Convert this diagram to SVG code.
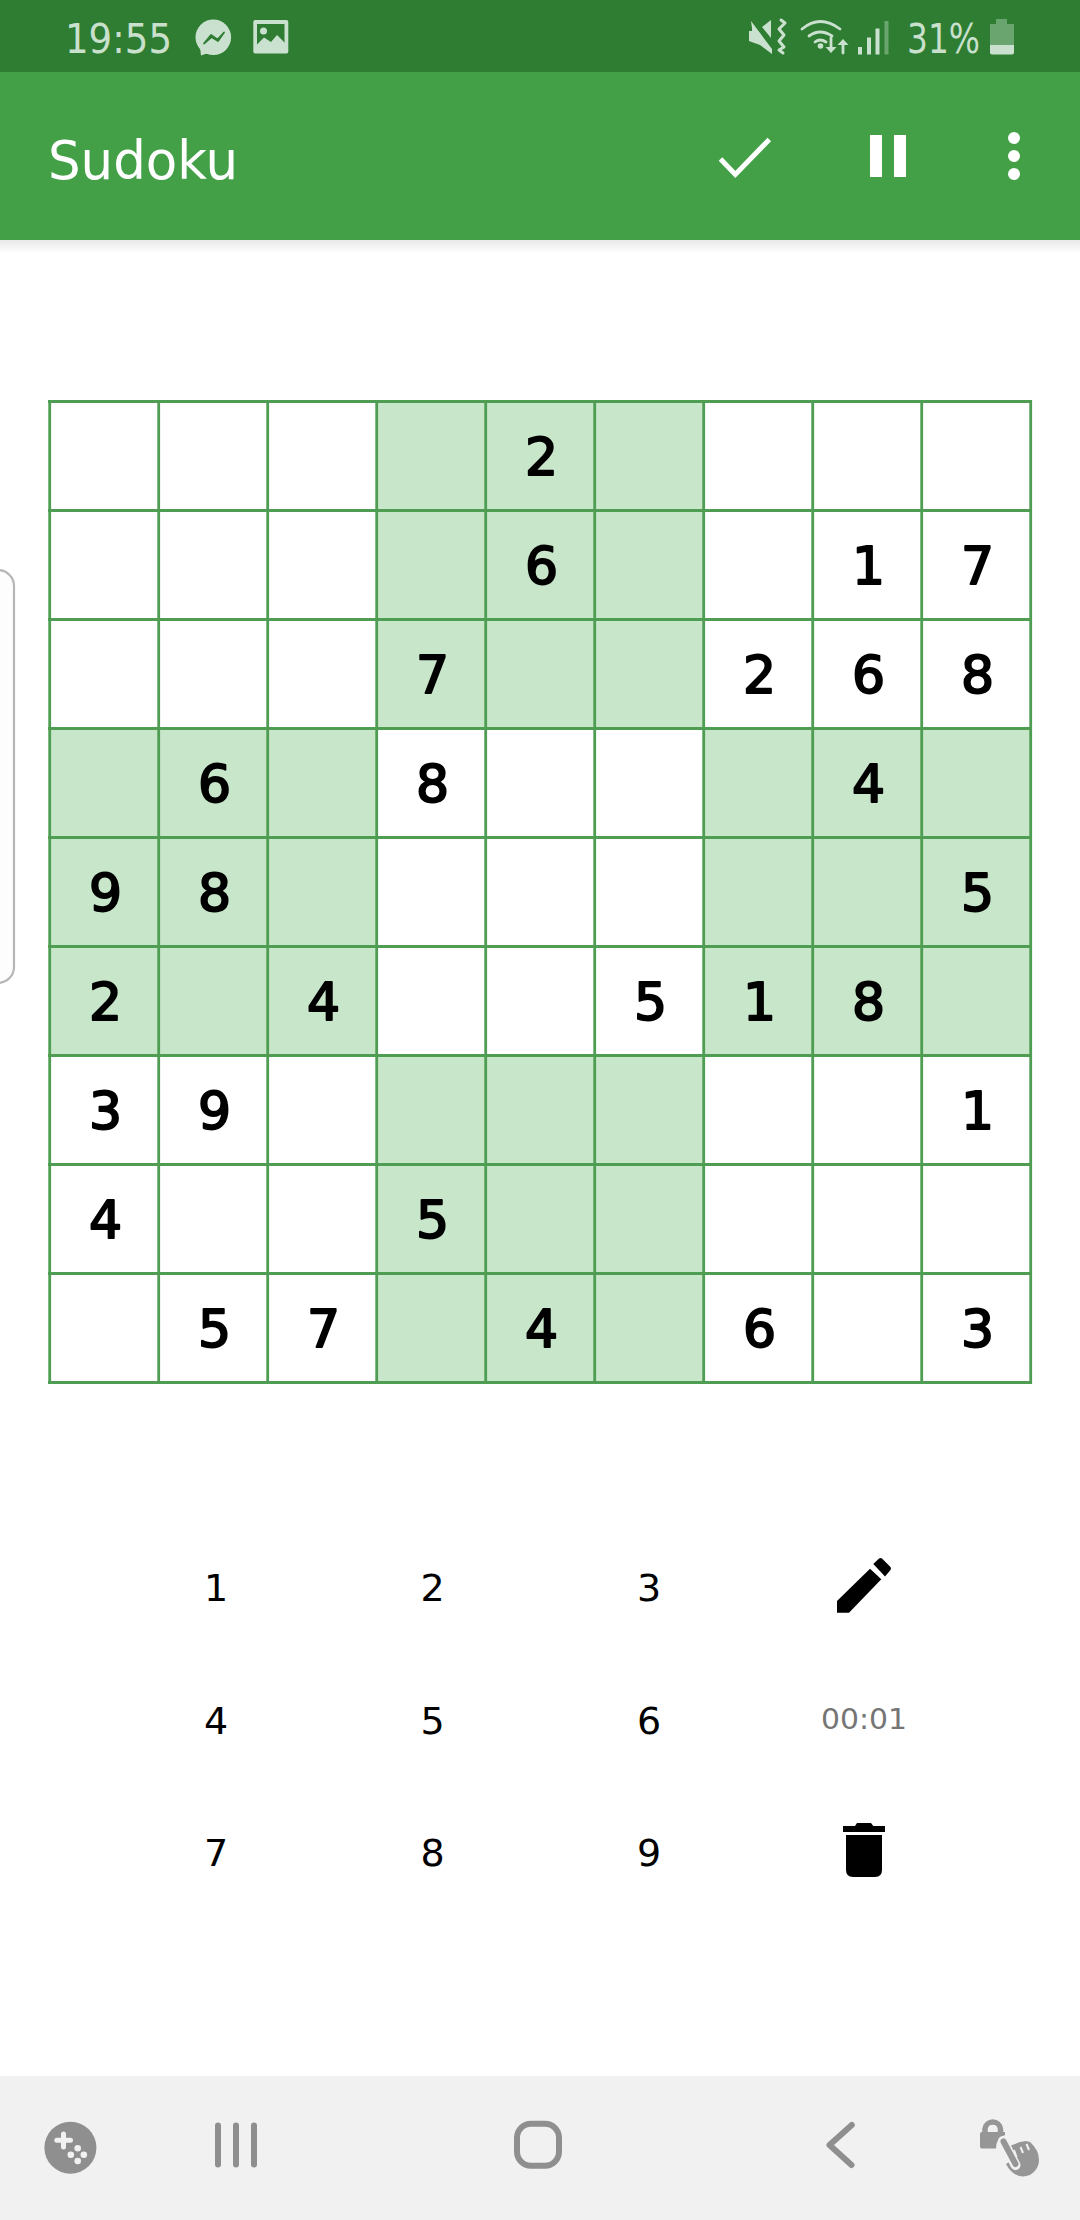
<svg xmlns="http://www.w3.org/2000/svg" width="1080" height="2220" viewBox="0 0 1080 2220">
<defs>
<linearGradient id="sh" x1="0" y1="0" x2="0" y2="1"><stop offset="0" stop-color="#000" stop-opacity=".09"/><stop offset="1" stop-color="#000" stop-opacity="0"/></linearGradient>
</defs>
<style>
text{font-family:"DejaVu Sans","Liberation Sans",sans-serif}
.hl{fill:#C8E6C9}
.gl{stroke:#4E9D52;stroke-width:2.8;fill:none}
.d{font-size:52px;fill:#000;stroke:#000;stroke-width:2px;stroke-linejoin:round;text-anchor:middle}
.k{font-size:38px;fill:#000;text-anchor:middle}
.st{font-size:41px;fill:#C8E0CC}
.si{fill:#CBE1CF}
.nav{fill:#8F8F8F}
.navs{stroke:#8F8F8F;fill:none;stroke-linecap:round}
</style>
<rect width="1080" height="2220" fill="#fff"/>
<g id="side-panel"><rect x="-30" y="570" width="44" height="413" rx="16" fill="#FDFDFD" stroke="#B6B6B6" stroke-width="2.2"/></g>

<g id="status-bar">
<rect width="1080" height="72" fill="#2E7D32"/>
<text class="st" x="65" y="53" textLength="107" lengthAdjust="spacingAndGlyphs">19:55</text>
<g id="icon-messenger">
<circle class="si" cx="213.300" cy="37.300" r="17.800"/><path class="si" d="M200 47 L201 55.500 L211 52Z"/>
<path d="M204 43.500 L211 35 L217.500 39.500 L224 32.500 L218 41 L211.500 37Z" fill="#2E7D32" stroke="#2E7D32" stroke-width="1.800" stroke-linejoin="round"/>
</g>
<g id="icon-image">
<rect class="si" x="253.300" y="20" width="35" height="33.500" rx="2"/>
<rect x="257" y="24" width="27.500" height="25" fill="#2E7D32"/>
<circle class="si" cx="263.500" cy="31" r="3.500"/>
<path class="si" d="M256.500 45 L264 37.500 L271 42 L277 35 L285 43 L285 50 L256.500 50Z"/>
</g>
<g id="icon-mute">
<path class="si" d="M749 31 L752 31 L752 28 L751 21 L772 49 L772 54 L760 45 L749 41Z"/>
<path class="si" d="M762 27 L771 20 L771 38Z"/>
<path d="M781 20 L785 23 L779 29 L784 35 L779 41 L784 47 L779 50 L783 53" fill="none" stroke="#CBE1CF" stroke-width="3" stroke-linecap="round" stroke-linejoin="round"/>
</g>
<g id="icon-wifi" fill="none" stroke="#CBE1CF" stroke-width="2.800" stroke-linecap="round">
<path d="M802 29 Q820 14 840 29"/><path d="M809 36 Q820 28 832 36"/><path d="M815 42 Q820 38 826 42" />
<circle class="si" cx="820.500" cy="46" r="2.800" stroke="none"/>
<path d="M831 38 L831 50"/><path d="M825.500 47 L831 53 L836.500 47Z" class="si" stroke="none"/>
<path d="M843 53 L843 42"/><path d="M837.500 45 L843 39 L848.500 45Z" class="si" stroke="none"/>
</g>
<g id="icon-signal">
<rect class="si" x="858" y="47" width="4" height="7.500"/>
<rect class="si" x="867" y="37.500" width="4" height="17"/>
<rect class="si" x="875.500" y="28.500" width="4" height="26"/>
<rect x="884.500" y="21" width="4" height="33.500" fill="#6AA56F"/>
</g>
<text class="st" x="907" y="53" textLength="73" lengthAdjust="spacingAndGlyphs">31%</text>
<g id="icon-battery">
<path fill="#6AA56F" d="M996 19 L1007 19 L1007 24 L1014 24 L1014 45 L990 45 L990 24 L996 24Z"/>
<path class="si" d="M990 45 H1014 V52.500 Q1014 54.500 1012 54.500 H992 Q990 54.500 990 52.500Z"/>
</g>
</g>

<g id="app-bar">
<rect y="240" width="1080" height="13" fill="url(#sh)"/>
<rect y="72" width="1080" height="168" fill="#43A047"/>
<text x="48" y="179" font-size="53" fill="#fff" textLength="190" lengthAdjust="spacingAndGlyphs">Sudoku</text>
<path id="icon-check" d="M720.500 159 L735.300 174.500 L769.300 139.500" fill="none" stroke="#fff" stroke-width="5"/>
<g id="icon-pause" fill="#fff"><rect x="870" y="135" width="12" height="42"/><rect x="894" y="135" width="12" height="42"/></g>
<g id="icon-more" fill="#fff"><circle cx="1014" cy="138" r="6"/><circle cx="1014" cy="156" r="6"/><circle cx="1014" cy="174" r="6"/></g>
</g>

<g id="highlights">
<rect class="hl" x="376" y="401.500" width="327" height="327"/>
<rect class="hl" x="49.500" y="728.500" width="327" height="327"/>
<rect class="hl" x="703" y="728.500" width="327.500" height="327"/>
<rect class="hl" x="376" y="1055.500" width="327" height="327"/>
</g>

<g id="grid">
<path class="gl" d="M49.700 400V1384M158.700 400V1384M267.700 400V1384M376.700 400V1384M485.700 400V1384M594.700 400V1384M703.700 400V1384M812.700 400V1384M921.700 400V1384M1030.700 400V1384"/>
<path class="gl" d="M48 401.500H1032M48 510.500H1032M48 619.500H1032M48 728.500H1032M48 837.500H1032M48 946.500H1032M48 1055.500H1032M48 1164.500H1032M48 1273.500H1032M48 1382.500H1032"/>
</g>

<g id="cell-digits" transform="translate(1.500 0)">
<text class="d" x="540" y="475">2</text>
<text class="d" x="540" y="584">6</text>
<text class="d" x="867" y="584">1</text>
<text class="d" x="976" y="584">7</text>
<text class="d" x="431" y="693">7</text>
<text class="d" x="758" y="693">2</text>
<text class="d" x="867" y="693">6</text>
<text class="d" x="976" y="693">8</text>
<text class="d" x="213" y="802">6</text>
<text class="d" x="431" y="802">8</text>
<text class="d" x="867" y="802">4</text>
<text class="d" x="104" y="911">9</text>
<text class="d" x="213" y="911">8</text>
<text class="d" x="976" y="911">5</text>
<text class="d" x="104" y="1020">2</text>
<text class="d" x="322" y="1020">4</text>
<text class="d" x="649" y="1020">5</text>
<text class="d" x="758" y="1020">1</text>
<text class="d" x="867" y="1020">8</text>
<text class="d" x="104" y="1129">3</text>
<text class="d" x="213" y="1129">9</text>
<text class="d" x="976" y="1129">1</text>
<text class="d" x="104" y="1238">4</text>
<text class="d" x="431" y="1238">5</text>
<text class="d" x="213" y="1347">5</text>
<text class="d" x="322" y="1347">7</text>
<text class="d" x="540" y="1347">4</text>
<text class="d" x="758" y="1347">6</text>
<text class="d" x="976" y="1347">3</text>
</g>

<g id="keypad">
<text class="k" x="216" y="1601">1</text>
<text class="k" x="432.500" y="1601">2</text>
<text class="k" x="649" y="1601">3</text>
<text class="k" x="216" y="1734">4</text>
<text class="k" x="432.500" y="1734">5</text>
<text class="k" x="649" y="1734">6</text>
<text class="k" x="216" y="1866">7</text>
<text class="k" x="432.500" y="1866">8</text>
<text class="k" x="649" y="1866">9</text>
<g id="icon-pencil">
<path d="M837 1601 L870 1568.700 L881.300 1579.300 L849 1612.700 L837 1612.700Z"/>
<path d="M873.300 1564 L879 1558.500 Q880.500 1557.500 882 1558.500 L890.500 1567 Q891.500 1568.500 890.500 1570 L885 1576.500Z"/>
</g>
<text x="821" y="1729" font-size="29" fill="#757575" textLength="86" lengthAdjust="spacingAndGlyphs">00:01</text>
<g id="icon-trash">
<path d="M843 1826 H855 L857 1823 H871 L873.300 1826 H885 V1832 H843Z"/>
<path d="M846 1835 H882 V1870 Q882 1877 875 1877 H853 Q846 1877 846 1870Z"/>
</g>
</g>

<g id="nav-bar">
<rect y="2076" width="1080" height="144" fill="#F1F1F1"/>
<g id="icon-game">
<circle class="nav" cx="70.400" cy="2147.700" r="26"/>
<path d="M63.500 2134 V2147 M56.800 2140.300 H70.500" stroke="#F1F1F1" stroke-width="5" stroke-linecap="round"/>
<g fill="#F1F1F1"><circle cx="77.700" cy="2148.300" r="3.300"/><circle cx="70.800" cy="2154.700" r="3.300"/><circle cx="83.800" cy="2154.700" r="3.300"/><circle cx="77.700" cy="2161" r="3.300"/></g>
</g>
<path id="icon-recents" class="navs" stroke-width="6" d="M218 2125.500 V2164.500 M236 2125.500 V2164.500 M254 2125.500 V2164.500"/>
<rect id="icon-home" x="517" y="2123.700" width="42" height="42" rx="14" fill="none" stroke="#8F8F8F" stroke-width="6"/>
<path id="icon-back" class="navs" stroke-width="6" stroke-linejoin="round" d="M851.800 2125 L829.500 2145 L851.500 2165"/>
<g id="icon-lock-hand">
<path fill="none" stroke="#969696" stroke-width="5.500" d="M985 2133 V2129 A7.800 7.800 0 0 1 1000.500 2129 V2133"/>
<path fill="#969696" d="M982 2132 H1005 V2135 Q996 2138 996 2148.500 H982 Q980 2148.500 980 2146.500 V2134 Q980 2132 982 2132Z"/>
<path fill="#969696" d="M1007 2147 L1015 2144 L1020 2142 L1026 2141 L1030 2142 Q1039 2150 1039 2160 A16.500 16.500 0 0 1 1023 2176.500 Q1012 2176 1006 2164 L1012 2160Z"/>
<path d="M1003 2141 L1015.500 2165" stroke="#F1F1F1" stroke-width="10" stroke-linecap="round"/>
<path d="M1003.500 2141.500 L1015.500 2164" stroke="#969696" stroke-width="6" stroke-linecap="round"/>
<path d="M1014 2150 L1016.500 2157 M1020.500 2147 L1023 2153 M1026.500 2144 L1029 2150" stroke="#F1F1F1" stroke-width="2" fill="none"/>
</g>
</g>
</svg>
